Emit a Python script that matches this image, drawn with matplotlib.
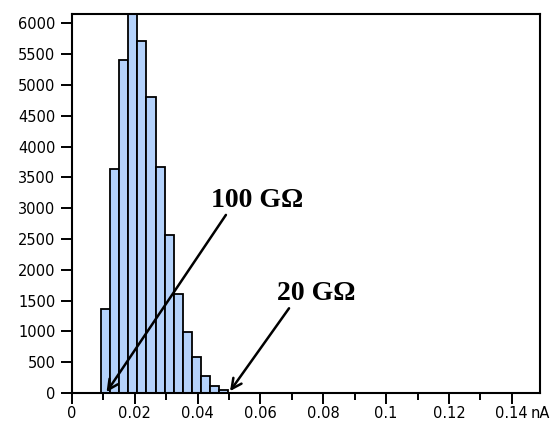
import numpy as np
import matplotlib.pyplot as plt
from matplotlib.ticker import MultipleLocator

# гистограмма токов (нА)
bin_start = 0.0093
bin_width = 0.00288
counts = [1360, 3630, 5400, 6300, 5710, 4810, 3660, 2560, 1600, 990, 590, 280, 120, 50]

yticks = [0, 500, 1000, 1500, 2000, 2500, 3000, 3500, 4000, 4500, 5000, 5500, 6000]
xticks = [0, 0.02, 0.04, 0.06, 0.08, 0.1, 0.12, 0.14]
xtick_labels = ['0', '0.02', '0.04', '0.06', '0.08', '0.1', '0.12', '0.14']

# подписи-стрелки: текст, позиция текста, начало стрелки, конец стрелки
labels = ['100 G\u03a9', '20 G\u03a9']
label_pos = [(0.0588, 3130), (0.0779, 1620)]
arrow_from = [(0.0490, 2890), (0.0691, 1375)]
arrow_to = [(0.0110, 15), (0.0503, 30)]

fig = plt.figure(figsize=(5.6, 4.23), dpi=100)
ax = fig.add_axes([0.1286, 0.0709, 0.8357, 0.8960])

edges = bin_start + bin_width * np.arange(len(counts))
ax.bar(edges, counts, width=bin_width, align='edge', color='#b4d2fb',
       edgecolor='black', linewidth=1.3)

ax.set_xlim(0, 0.149)
ax.set_ylim(0, 6150)
ax.set_xticks(xticks)
ax.set_xticklabels(xtick_labels)
ax.set_yticks(yticks)
ax.xaxis.set_minor_locator(MultipleLocator(0.01))

ax.tick_params(which='major', direction='out', length=8, width=1.4, labelsize=10.5)
ax.tick_params(axis='x', which='major', pad=1)
ax.tick_params(axis='y', which='major', pad=4)
ax.tick_params(which='minor', direction='out', length=5, width=1.4)
for s in ax.spines.values():
    s.set_linewidth(1.5)

# единицы справа от последней подписи
ax.annotate('nA', xy=(0.1459, 0), xycoords=('data', 'axes fraction'),
            xytext=(0, -9), textcoords='offset points', fontsize=10.5,
            ha='left', va='top')

for t, p, a, b in zip(labels, label_pos, arrow_from, arrow_to):
    ax.text(p[0], p[1], t, fontsize=20, fontweight='bold',
            family='Liberation Serif', ha='center', va='center')
    ax.annotate('', xy=b, xytext=a,
                arrowprops=dict(arrowstyle='->', lw=1.8, color='black',
                                mutation_scale=18, shrinkA=0, shrinkB=0))

fig.savefig('out.png', dpi=100)
